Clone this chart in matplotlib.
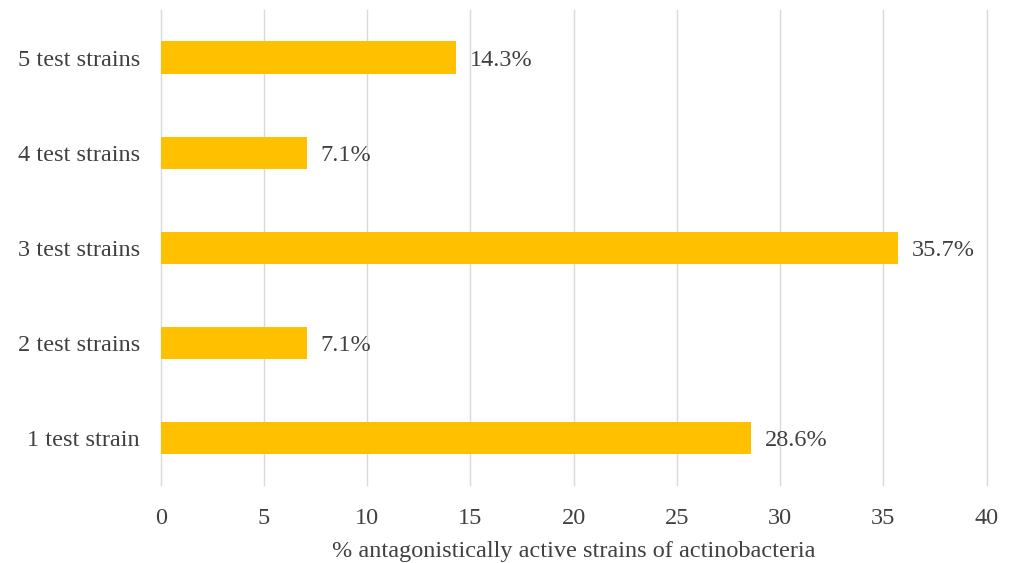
import matplotlib.pyplot as plt

categories = ['1 test strain', '2 test strains', '3 test strains', '4 test strains', '5 test strains']
values = [28.6, 7.1, 35.7, 7.1, 14.3]
value_labels = ['28.6%', '7.1%', '35.7%', '7.1%', '14.3%']
x_ticks = [0, 5, 10, 15, 20, 25, 30, 35, 40]

plt.rcParams['font.family'] = ['Liberation Serif', 'DejaVu Serif']
text_color = '#404040'
fs = 17.5

fig = plt.figure(figsize=(10.11, 5.63), dpi=100)
ax = fig.add_axes([0.159, 0.138, 0.817, 0.844])

bars = ax.barh(range(len(categories)), values, height=0.34, color='#FFC000', zorder=3)
for bar, lab in zip(bars, value_labels):
    ax.text(bar.get_width() + 0.65, bar.get_y() + bar.get_height() / 2, lab,
            va='center_baseline', ha='left', fontsize=fs, color=text_color)

ax.set_xlim(0, 40)
ax.set_ylim(-0.5, 4.5)
ax.set_xticks(x_ticks)
ax.set_yticks(range(len(categories)))
ax.set_yticklabels(categories)
ax.tick_params(axis='both', length=0, labelsize=fs, labelcolor=text_color)
ax.tick_params(axis='x', pad=16)
ax.tick_params(axis='y', pad=15)
ax.grid(axis='x', color='#d9d9d9', linewidth=1, zorder=0)
for gl in ax.get_xgridlines():
    gl.set_clip_on(False)
for s in ax.spines.values():
    s.set_visible(False)

ax.set_xlabel('% antagonistically active strains of actinobacteria', fontsize=fs,
              color=text_color, labelpad=9)

fig.savefig('out.png', dpi=100)
